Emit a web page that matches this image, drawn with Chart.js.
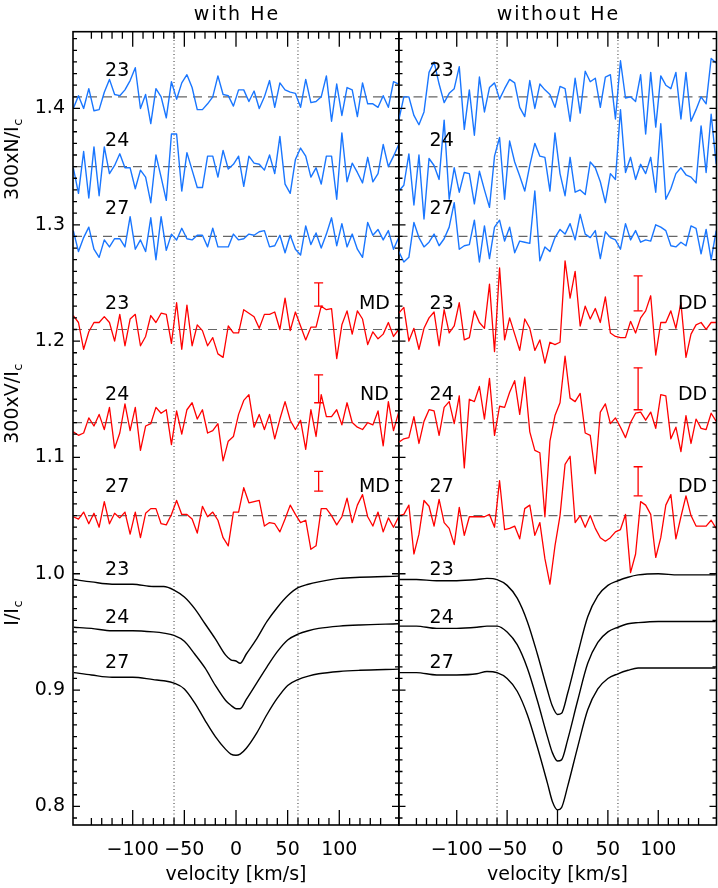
<!DOCTYPE html>
<html>
<head>
<meta charset="utf-8">
<script src="https://cdn.jsdelivr.net/npm/chart.js@4.4.0/dist/chart.umd.min.js"></script>
<style>
  html, body { margin: 0; padding: 0; background: #fff; }
  #wrap { position: relative; width: 718px; height: 888px; }
  #left { position: absolute; left: 0; top: 0; }
  #right { position: absolute; left: 398px; top: 0; }
</style>
</head>
<body>
<div id="wrap">
  <canvas id="left" width="400" height="888"></canvas>
  <canvas id="right" width="320" height="888"></canvas>
</div>
<script>
// velocity grid of the LSD profiles (km/s)
const velocity = [-157.5,-152.5,-147.5,-142.5,-137.5,-132.5,-127.5,-122.5,-117.5,-112.5,-107.5,-102.5,-97.5,-92.5,-87.5,-82.5,
  -77.5,-72.5,-67.5,-62.5,-57.5,-52.5,-47.5,-42.5,-37.5,-32.5,-27.5,-22.5,-17.5,-12.5,-7.5,-2.5,
  2.5,7.5,12.5,17.5,22.5,27.5,32.5,37.5,42.5,47.5,52.5,57.5,62.5,67.5,72.5,77.5,
  82.5,87.5,92.5,97.5,102.5,107.5,112.5,117.5,122.5,127.5,132.5,137.5,142.5,147.5,152.5,157.5];
// velocities at which the smooth I/Ic profiles were read
const profileVelocity = [-157,-140,-120,-100,-80,-70,-60,-50,-40,-30,-20,-10,-5,0,4,10,20,30,40,50,60,70,80,100,120,157];

const rowNames = ["23", "24", "27"];
const flagsWith = ["MD", "ND", "MD"];
const flagsWithout = ["DD", "DD", "DD"];
const baselines = [1.41, 1.35, 1.29, 1.21, 1.13, 1.05];
const dottedVelocity = [-60, 60];
const xTickLabels = [-100, -50, 0, 50, 100];
const yTickLabels = [0.8, 0.9, 1.0, 1.1, 1.2, 1.3, 1.4];
const xMin = -157.8, xMax = 157.8, yMin = 0.784, yMax = 1.466;

// ---- with He ----
const nWith23 = [1.400,1.411,1.400,1.417,1.398,1.399,1.414,1.425,1.412,1.411,1.416,1.424,1.435,1.400,1.412,1.387,1.417,1.410,1.392,1.423,
  1.408,1.422,1.429,1.418,1.399,1.399,1.404,1.410,1.428,1.412,1.411,1.402,1.416,1.416,1.406,1.415,1.400,1.410,1.424,1.401,
  1.422,1.416,1.414,1.413,1.401,1.425,1.405,1.406,1.410,1.428,1.389,1.421,1.394,1.418,1.416,1.393,1.422,1.404,1.404,1.401,
  1.411,1.401,1.423,1.421];
const nWith24 = [1.349,1.327,1.363,1.323,1.367,1.325,1.367,1.344,1.351,1.361,1.349,1.349,1.331,1.347,1.341,1.319,1.360,1.341,1.321,1.378,
  1.378,1.329,1.362,1.347,1.332,1.332,1.359,1.359,1.341,1.364,1.348,1.352,1.359,1.333,1.359,1.353,1.352,1.347,1.360,1.344,
  1.376,1.335,1.327,1.356,1.366,1.359,1.341,1.349,1.335,1.359,1.359,1.322,1.379,1.337,1.353,1.345,1.336,1.358,1.337,1.344,
  1.369,1.350,1.359,1.369];
const nWith27 = [1.295,1.277,1.289,1.298,1.279,1.272,1.287,1.281,1.288,1.288,1.281,1.307,1.279,1.287,1.277,1.306,1.270,1.307,1.278,1.292,
  1.287,1.297,1.288,1.287,1.291,1.291,1.281,1.297,1.281,1.281,1.281,1.292,1.287,1.288,1.292,1.291,1.294,1.295,1.281,1.282,
  1.291,1.276,1.291,1.279,1.274,1.299,1.283,1.293,1.280,1.292,1.306,1.282,1.301,1.281,1.292,1.279,1.272,1.302,1.291,1.296,
  1.287,1.295,1.279,1.289];
const vWith23 = [1.222,1.216,1.193,1.208,1.216,1.216,1.221,1.216,1.200,1.223,1.196,1.219,1.223,1.196,1.204,1.222,1.216,1.224,1.223,1.198,
  1.233,1.193,1.231,1.196,1.214,1.209,1.196,1.203,1.189,1.186,1.213,1.207,1.207,1.227,1.224,1.221,1.211,1.223,1.223,1.225,
  1.210,1.237,1.209,1.225,1.213,1.201,1.212,1.212,1.230,1.227,1.228,1.185,1.214,1.226,1.206,1.226,1.219,1.197,1.208,1.202,
  1.206,1.216,1.204,1.210];
const vWith24 = [1.122,1.119,1.121,1.134,1.127,1.137,1.124,1.143,1.108,1.121,1.146,1.123,1.143,1.106,1.127,1.129,1.143,1.138,1.141,1.111,
  1.140,1.120,1.141,1.147,1.133,1.141,1.121,1.123,1.129,1.097,1.114,1.118,1.137,1.149,1.154,1.126,1.137,1.124,1.137,1.116,
  1.133,1.148,1.132,1.124,1.132,1.107,1.141,1.118,1.154,1.135,1.135,1.141,1.128,1.147,1.130,1.126,1.124,1.130,1.128,1.140,
  1.110,1.148,1.123,1.139];
const vWith27 = [1.049,1.047,1.053,1.043,1.052,1.040,1.062,1.043,1.052,1.048,1.053,1.034,1.053,1.031,1.052,1.056,1.056,1.043,1.042,1.051,
  1.063,1.051,1.051,1.047,1.035,1.058,1.049,1.053,1.046,1.031,1.024,1.053,1.053,1.074,1.061,1.062,1.063,1.041,1.044,1.043,
  1.036,1.047,1.059,1.051,1.044,1.046,1.021,1.024,1.056,1.056,1.050,1.042,1.049,1.065,1.044,1.059,1.068,1.049,1.041,1.053,
  1.036,1.048,1.040,1.049];
const iWith23 = [0.995,0.993,0.991,0.991,0.989,0.989,0.986,0.980,0.970,0.957,0.944,0.930,0.926,0.925,0.923,0.931,0.944,0.959,0.971,0.981,0.988,0.991,0.993,0.996,0.997,0.998];
const iWith24 = [0.954,0.953,0.951,0.951,0.950,0.949,0.947,0.942,0.931,0.919,0.904,0.891,0.887,0.884,0.884,0.892,0.906,0.920,0.933,0.943,0.948,0.951,0.953,0.955,0.956,0.957];
const iWith27 = [0.915,0.913,0.911,0.911,0.909,0.908,0.906,0.901,0.889,0.874,0.860,0.849,0.845,0.844,0.845,0.850,0.863,0.879,0.893,0.904,0.909,0.912,0.914,0.916,0.917,0.918];
const errLowWith = [1.230, 1.147, 1.071];
const errHighWith = [1.250, 1.171, 1.088];

// ---- without He ----
const nWithout23 = [1.390,1.410,1.410,1.394,1.386,1.397,1.431,1.440,1.421,1.405,1.413,1.417,1.436,1.382,1.416,1.377,1.427,1.397,1.418,1.422,
  1.408,1.417,1.425,1.422,1.401,1.393,1.424,1.400,1.421,1.416,1.412,1.401,1.419,1.417,1.389,1.426,1.396,1.432,1.423,1.426,
  1.401,1.427,1.429,1.391,1.441,1.409,1.410,1.406,1.429,1.378,1.431,1.384,1.428,1.420,1.417,1.431,1.391,1.431,1.389,1.399,
  1.410,1.404,1.443,1.439];
const nWithout24 = [1.329,1.334,1.361,1.317,1.360,1.305,1.357,1.351,1.339,1.390,1.322,1.349,1.328,1.345,1.344,1.318,1.346,1.330,1.315,1.359,
  1.375,1.322,1.372,1.354,1.342,1.329,1.351,1.370,1.359,1.358,1.329,1.379,1.344,1.325,1.358,1.328,1.330,1.326,1.354,1.349,
  1.337,1.319,1.344,1.339,1.399,1.345,1.358,1.339,1.352,1.344,1.358,1.328,1.387,1.322,1.331,1.344,1.349,1.343,1.341,1.336,
  1.385,1.345,1.395,1.352];
const nWithout27 = [1.277,1.268,1.272,1.302,1.289,1.281,1.285,1.292,1.282,1.288,1.298,1.319,1.279,1.282,1.283,1.304,1.268,1.299,1.271,1.298,
  1.304,1.286,1.298,1.276,1.286,1.285,1.284,1.329,1.269,1.281,1.277,1.289,1.296,1.292,1.301,1.287,1.309,1.292,1.289,1.295,
  1.271,1.294,1.289,1.287,1.279,1.301,1.287,1.295,1.285,1.287,1.286,1.300,1.298,1.295,1.282,1.281,1.285,1.282,1.299,1.297,
  1.275,1.296,1.270,1.295];
const vWithout23 = [1.224,1.229,1.200,1.211,1.193,1.211,1.220,1.225,1.196,1.227,1.207,1.213,1.233,1.201,1.203,1.226,1.216,1.211,1.249,1.191,
  1.263,1.201,1.220,1.206,1.192,1.219,1.211,1.192,1.201,1.181,1.199,1.197,1.199,1.269,1.237,1.260,1.213,1.230,1.219,1.228,
  1.216,1.238,1.207,1.204,1.203,1.203,1.217,1.207,1.220,1.226,1.239,1.188,1.216,1.216,1.226,1.211,1.233,1.186,1.206,1.214,
  1.216,1.210,1.216,1.216];
const vWithout24 = [1.113,1.116,1.117,1.135,1.112,1.131,1.141,1.140,1.119,1.143,1.148,1.129,1.153,1.091,1.150,1.148,1.161,1.133,1.168,1.119,
  1.144,1.143,1.156,1.166,1.137,1.169,1.122,1.106,1.104,1.049,1.114,1.136,1.147,1.187,1.151,1.148,1.155,1.121,1.119,1.086,
  1.139,1.146,1.129,1.134,1.126,1.117,1.130,1.138,1.139,1.132,1.139,1.125,1.154,1.153,1.116,1.126,1.105,1.136,1.112,1.133,
  1.125,1.124,1.138,1.131];
const vWithout27 = [1.050,1.051,1.059,1.017,1.034,1.063,1.058,1.041,1.064,1.044,1.039,1.025,1.057,1.033,1.049,1.049,1.049,1.049,1.051,1.040,
  1.080,1.038,1.039,1.041,1.030,1.056,1.059,1.033,1.044,1.013,0.991,1.024,1.050,1.094,1.101,1.044,1.050,1.040,1.050,1.039,
  1.031,1.028,1.031,1.036,1.038,1.051,1.001,1.017,1.062,1.059,1.051,1.014,1.031,1.059,1.068,1.030,1.049,1.067,1.050,1.041,
  1.041,1.041,1.046,1.039];
const iWithout23 = [0.995,0.995,0.994,0.994,0.995,0.996,0.995,0.990,0.979,0.959,0.931,0.900,0.886,0.879,0.880,0.897,0.931,0.963,0.981,0.990,0.994,0.997,0.999,1.000,0.999,0.999];
const iWithout24 = [0.955,0.955,0.953,0.953,0.954,0.955,0.955,0.950,0.939,0.919,0.891,0.860,0.846,0.839,0.840,0.857,0.891,0.923,0.941,0.950,0.954,0.957,0.958,0.959,0.959,0.959];
const iWithout27 = [0.915,0.915,0.913,0.913,0.914,0.916,0.915,0.910,0.899,0.879,0.851,0.820,0.804,0.797,0.799,0.817,0.851,0.883,0.901,0.910,0.914,0.917,0.919,0.919,0.919,0.919];
const errLowWithout = [1.226, 1.141, 1.067];
const errHighWithout = [1.256, 1.177, 1.092];

// where the annotations sit (data units)
const errVelocity = 80;
const rowLabelVelocity = -115;
const flagVelocity = 134;
const labelYN = [1.434, 1.374, 1.315];
const labelYV = [1.234, 1.155, 1.076];
const labelYI = [1.005, 0.964, 0.925];
const yTitleAt = [1.356, 1.146, 0.966];

const BLUE = "rgb(25,118,255)";
const RED = "rgb(255,0,0)";
const FONT = '"DejaVu Sans"';

Chart.defaults.font.family = FONT;
Chart.defaults.font.size = 19;
Chart.defaults.color = "#000";

function linePoints(xs, ys) {
    return xs.map((x, k) => ({ x: x, y: ys[k] }));
}

function panelDatasets(nSeries, vSeries, iSeries, errLow, errHigh) {
    let sets = [];
    nSeries.forEach(s => sets.push({ data: linePoints(velocity, s), borderColor: BLUE, borderWidth: 1.4 }));
    vSeries.forEach(s => sets.push({ data: linePoints(velocity, s), borderColor: RED, borderWidth: 1.3 }));
    iSeries.forEach(s => sets.push({ data: linePoints(profileVelocity, s), borderColor: "#000", borderWidth: 1.4, cubicInterpolationMode: "monotone" }));
    errLow.forEach((lo, k) => sets.push({
        data: [{ x: errVelocity, y: lo }, { x: errVelocity, y: errHigh[k] }],
        borderColor: RED, borderWidth: 1.3,
        pointStyle: "line", pointRadius: 4.5, pointBorderColor: RED, pointBorderWidth: 1.3
    }));
    baselines.forEach(b => sets.push({ data: [{ x: xMin, y: b }, { x: xMax, y: b }], borderColor: "#666", borderWidth: 1.2, borderDash: [9, 6] }));
    dottedVelocity.forEach(v => sets.push({ data: [{ x: v, y: yMin }, { x: v, y: yMax }], borderColor: "#333", borderWidth: 1, borderDash: [1, 2.5] }));
    return sets;
}

function drawYTitle(ctx, main, sub, bx, cy) {
    ctx.save();
    ctx.translate(bx, cy);
    ctx.rotate(-Math.PI / 2);
    ctx.textAlign = "left";
    ctx.font = "19px " + FONT;
    const w1 = ctx.measureText(main).width;
    ctx.font = "13px " + FONT;
    const w2 = ctx.measureText(sub).width;
    const start = -(w1 + w2) / 2;
    ctx.font = "19px " + FONT;
    ctx.fillText(main, start, 0);
    ctx.font = "13px " + FONT;
    ctx.fillText(sub, start + w1 + 0.5, 4);
    ctx.restore();
}

// frame, inward ticks and text labels
const panelDecor = {
    id: "panelDecor",
    afterDraw(chart, args, o) {
        const ctx = chart.ctx;
        const a = chart.chartArea;
        const x = chart.scales.x, y = chart.scales.y;
        ctx.save();
        ctx.strokeStyle = "#000";
        ctx.lineWidth = 1.3;
        ctx.beginPath();
        for (let v = -140; v <= 140; v += 10) {
            const px = x.getPixelForValue(v);
            const len = v % 50 === 0 ? 15 : 7;
            ctx.moveTo(px, a.bottom); ctx.lineTo(px, a.bottom - len);
            ctx.moveTo(px, a.top); ctx.lineTo(px, a.top + len);
        }
        for (let k = 79; k <= 146; k++) {
            const py = y.getPixelForValue(k / 100);
            const len = k % 10 === 0 ? 7 : 4;
            ctx.moveTo(a.left, py); ctx.lineTo(a.left + len, py);
            ctx.moveTo(a.right, py); ctx.lineTo(a.right - len, py);
        }
        ctx.stroke();
        ctx.lineWidth = 1.6;
        ctx.strokeRect(a.left, a.top, a.right - a.left, a.bottom - a.top);

        ctx.fillStyle = "#000";
        ctx.font = "19px " + FONT;
        ctx.textAlign = "center";
        ctx.textBaseline = "alphabetic";
        ctx.letterSpacing = "2px";
        ctx.fillText(o.title, (a.left + a.right) / 2 + 1, 20);
        ctx.letterSpacing = "0px";

        const lx = x.getPixelForValue(rowLabelVelocity);
        const fx = x.getPixelForValue(flagVelocity);
        rowNames.forEach((name, k) => {
            [labelYN, labelYV, labelYI].forEach(arr => ctx.fillText(name, lx, y.getPixelForValue(arr[k]) + 7));
            ctx.fillText(o.flags[k], fx, y.getPixelForValue(labelYV[k]) + 7);
        });

        if (o.yTitles) {
            drawYTitle(ctx, "300xN/I", "c", 17.5, y.getPixelForValue(yTitleAt[0]));
            drawYTitle(ctx, "300xV/I", "c", 17.5, y.getPixelForValue(yTitleAt[1]));
            drawYTitle(ctx, "I/I", "c", 17.5, y.getPixelForValue(yTitleAt[2]));
        }
        ctx.restore();
    }
};

function makePanel(canvasId, datasets, decor, showY, padding) {
    return new Chart(document.getElementById(canvasId), {
        type: "line",
        data: { datasets: datasets },
        options: {
            responsive: false,
            animation: false,
            devicePixelRatio: 1,
            events: [],
            layout: { padding: padding, autoPadding: false },
            elements: {
                point: { radius: 0 },
                line: { tension: 0, fill: false, borderJoinStyle: "round" }
            },
            plugins: {
                legend: { display: false },
                tooltip: { enabled: false },
                panelDecor: decor
            },
            scales: {
                x: {
                    type: "linear", min: xMin, max: xMax, position: "bottom",
                    afterBuildTicks: s => { s.ticks = xTickLabels.map(v => ({ value: v })); },
                    afterFit: s => { s.height = 63; s.paddingLeft = 0; s.paddingRight = 0; },
                    ticks: {
                        autoSkip: false, maxRotation: 0, minRotation: 0, padding: 14,
                        callback: v => String(v).replace("-", "\u2212")
                    },
                    grid: { display: false, drawTicks: false },
                    border: { display: false },
                    title: { display: true, text: "velocity [km/s]", padding: { top: 0, bottom: 2 } }
                },
                y: {
                    type: "linear", min: yMin, max: yMax, position: "left", display: showY,
                    afterBuildTicks: s => { s.ticks = yTickLabels.map(v => ({ value: v })); },
                    afterFit: s => { s.width = showY ? 73 : 0; s.paddingTop = 0; s.paddingBottom = 0; },
                    ticks: { autoSkip: false, padding: 8, callback: v => v.toFixed(1) },
                    grid: { display: false, drawTicks: false },
                    border: { display: false }
                }
            }
        },
        plugins: [panelDecor]
    });
}

makePanel("left",
    panelDatasets([nWith23, nWith24, nWith27], [vWith23, vWith24, vWith27], [iWith23, iWith24, iWith27], errLowWith, errHighWith),
    { title: "with He", flags: flagsWith, yTitles: true }, true,
    { left: 0, right: 1, top: 31.7, bottom: 0 });

makePanel("right",
    panelDatasets([nWithout23, nWithout24, nWithout27], [vWithout23, vWithout24, vWithout27], [iWithout23, iWithout24, iWithout27], errLowWithout, errHighWithout),
    { title: "without He", flags: flagsWithout, yTitles: false }, false,
    { left: 0.5, right: 1.5, top: 31.7, bottom: 0 });
</script>
</body>
</html>
